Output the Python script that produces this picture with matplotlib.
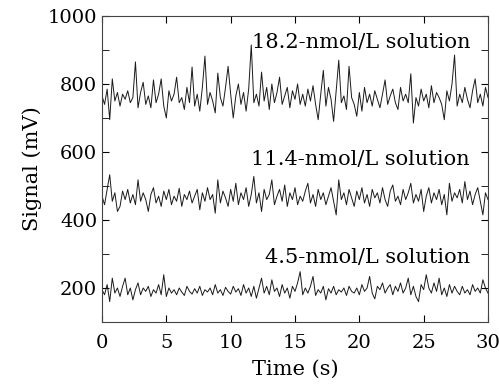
import numpy as np
import matplotlib.pyplot as plt
from matplotlib.ticker import MultipleLocator

# hand-read traces, one point every 0.2 s
time = np.arange(151) * 0.2

sig_182 = [765, 740, 785, 695, 815, 750, 775, 735, 770, 755,
           780, 745, 760, 865, 730, 775, 805, 740, 765, 730,
           812, 745, 770, 815, 735, 700, 780, 750, 770, 820,
           745, 760, 725, 790, 745, 850, 735, 770, 720, 790,
           882, 740, 775, 750, 715, 832, 760, 735, 790, 852,
           770, 700, 765, 800, 740, 775, 720, 785, 915, 745,
           770, 735, 835, 750, 790, 725, 800, 745, 775, 820,
           740, 765, 790, 730, 780, 755, 800, 740, 770, 735,
           785, 750, 795, 740, 695, 770, 840, 735, 790, 755,
           690, 780, 870, 745, 765, 725, 852, 760, 740, 705,
           775, 720, 790, 745, 770, 735, 780, 755, 730, 770,
           812, 740, 765, 785, 745, 725, 790, 750, 770, 745,
           830, 685, 760, 735, 785, 750, 770, 730, 795, 745,
           775, 760, 740, 695, 780, 750, 800, 885, 735, 770,
           745, 790, 755, 730, 780, 815, 745, 770, 735, 790,
           760]

sig_114 = [470, 445, 490, 533, 455, 480, 425, 440, 485, 460,
           490, 450, 475, 445, 518, 455, 480, 460, 425, 475,
           495, 450, 470, 440, 485, 460, 490, 445, 470, 455,
           493, 440, 475, 460, 485, 450, 470, 490, 430, 480,
           455, 495, 460, 475, 420, 518, 450, 485, 465, 440,
           490, 455, 508, 445, 480, 460, 495, 440, 475, 528,
           450, 480, 425, 490, 460, 475, 518, 445, 470, 490,
           455, 503, 440, 480, 460, 495, 445, 470, 455, 485,
           508, 450, 475, 440, 490, 460, 480, 445, 470, 495,
           455, 415, 518, 460, 480, 445, 490, 465, 440, 485,
           460, 495, 450, 475, 440, 490, 465, 480, 450, 495,
           460, 440, 485, 503, 455, 470, 445, 490, 460, 480,
           508, 450, 475, 455, 490, 425, 470, 495, 450, 480,
           460, 490, 445, 475, 415, 508, 455, 480, 465, 490,
           450, 513, 460, 485, 445, 475, 495, 455, 415, 480,
           460]

sig_45 = [195, 180, 210, 160, 229, 185, 200, 175, 205, 229,
          180, 200, 165, 195, 215, 180, 200, 190, 205, 175,
          195, 185, 210, 180, 239, 175, 200, 185, 195, 180,
          200, 188, 178, 205, 190, 182, 198, 185, 205, 178,
          195, 188, 200, 180, 210, 185, 195, 178, 202, 190,
          182, 205, 188, 198, 178, 210, 185, 200, 175, 205,
          170, 200, 229, 185, 205, 180, 224, 190, 200, 175,
          210, 185, 200, 170, 205, 190, 215, 248, 180, 200,
          185, 205, 234, 178, 195, 185, 205, 165, 198, 185,
          205, 180, 195, 188, 200, 178, 205, 190, 185, 200,
          180, 210, 190, 200, 234, 185, 168, 205, 195, 215,
          185, 200, 210, 180, 205, 190, 215, 185, 200, 229,
          180, 205, 175, 160, 210, 195, 239, 200, 185, 215,
          190, 229, 180, 200, 175, 210, 185, 205, 190, 180,
          205, 185, 195, 180, 210, 190, 200, 185, 224, 200,
          185]

labels = ['18.2-nmol/L solution', '11.4-nmol/L solution', '4.5-nmol/L solution']
label_y = [921, 577, 291]

plt.rcParams['font.family'] = 'DejaVu Serif'

fig = plt.figure(figsize=(4.99, 3.87), dpi=100)
ax = fig.add_axes([0.2044, 0.168, 0.7736, 0.7907])

for sig in [sig_182, sig_114, sig_45]:
    ax.plot(time, sig, color='#1a1a1a', lw=0.7)

for lab, ly in zip(labels, label_y):
    ax.text(28.6, ly, lab, ha='right', va='center', fontsize=15)

ax.set_xlim(0, 30)
ax.set_ylim(100, 1000)
ax.set_xticks([0, 5, 10, 15, 20, 25, 30])
ax.set_yticks([200, 400, 600, 800, 1000])
ax.yaxis.set_minor_locator(MultipleLocator(100))
ax.tick_params(which='both', direction='in', top=True, right=True,
               labelsize=14, length=5)
ax.tick_params(axis='x', pad=9)
ax.set_xlabel('Time (s)', fontsize=15, labelpad=5)
ax.set_ylabel('Signal (mV)', fontsize=15)
for s in ax.spines.values():
    s.set_linewidth(0.8)
    s.set_color('#444444')

fig.savefig('out.png', dpi=100)
